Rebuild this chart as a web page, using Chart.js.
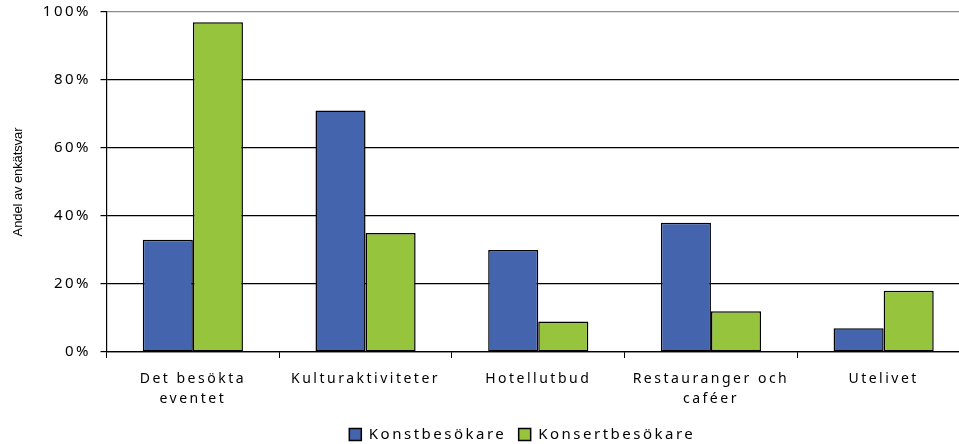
<!DOCTYPE html>
<html>
<head>
<meta charset="utf-8">
<script src="https://cdn.jsdelivr.net/npm/chart.js@4/dist/chart.umd.min.js"></script>
<style>
html,body{margin:0;padding:0;background:#fff;overflow:hidden;width:959px;height:444px;}
#wrap{position:absolute;left:0;top:0;width:1044px;height:444px;}
</style>
</head>
<body>
<div id="wrap"><canvas id="c" width="1044" height="444"></canvas></div>
<script>
const categories = [["Det besökta","eventet"],"Kulturaktiviteter","Hotellutbud",["Restauranger och","caféer"],"Utelivet"];
const konstbesokare = [33, 71, 30, 38, 7];
const konsertbesokare = [97, 35, 9, 12, 18];
const yTicks = [0, 20, 40, 60, 80, 100];

const SPACING = '2.5px';
const spacingPlugin = {
  id: 'spacing',
  beforeInit(chart){ chart.ctx.letterSpacing = SPACING; },
  beforeUpdate(chart){ chart.ctx.letterSpacing = SPACING; },
  beforeDraw(chart){ chart.ctx.letterSpacing = SPACING; },
  afterUpdate(chart){
    const s = chart.scales.y;
    if (s && !s._wrapped){
      const orig = s.drawTitle.bind(s);
      s.drawTitle = function(...a){
        const c = chart.ctx; const p = c.letterSpacing;
        c.letterSpacing = '-0.1px'; orig(...a); c.letterSpacing = p;
      };
      s._wrapped = true;
    }
    // centre the legend under the original chart frame
    const lg = chart.legend;
    if (lg) { lg.left += 38; lg.right += 38; }
  }
};

new Chart(document.getElementById('c'), {
  type: 'bar',
  data: {
    labels: categories,
    datasets: [
      {label: 'Konstbesökare', data: konstbesokare, backgroundColor: '#4464AD', borderColor: '#000', borderWidth: 1.5, borderSkipped: false},
      {label: 'Konsertbesökare', data: konsertbesokare, backgroundColor: '#96C43C', borderColor: '#000', borderWidth: 1.5, borderSkipped: false}
    ]
  },
  options: {
    responsive: false,
    animation: false,
    devicePixelRatio: 1,
    layout: {padding: {top: 12, right: 74, bottom: -8, left: 5}},
    datasets: {bar: {categoryPercentage: 0.58, barPercentage: 1.0}},
    plugins: {
      tooltip: {enabled: false},
      legend: {
        position: 'bottom',
        labels: {
          color: '#000',
          font: {family: 'Noto Sans', size: 15},
          boxWidth: 12, boxHeight: 12, padding: 6,
          generateLabels(chart){
            return chart.data.datasets.map((d,i)=>({text: d.label + '\u00A0', fillStyle: d.backgroundColor, strokeStyle: '#000', lineWidth: 1.5, datasetIndex: i, fontColor: '#000'}));
          }
        }
      }
    },
    scales: {
      x: {
        grid: {display: true, offset: true, drawOnChartArea: false, drawTicks: true, tickLength: 6, color: '#000'},
        border: {display: true, color: '#000', width: 1.2},
        ticks: {color: '#000', font: {family: 'Noto Sans', size: 14, lineHeight: '20px'}, padding: 11.5, maxRotation: 0, autoSkip: false}
      },
      y: {
        min: 0, max: 100,
        afterBuildTicks(scale){ scale.ticks = yTicks.map(v=>({value: v})); },
        grid: {color: (ctx)=> ctx.tick && ctx.tick.value === 100 ? '#8c8c8c' : '#000', lineWidth: 1.2, tickLength: 6, tickColor: '#000'},
        border: {display: true, color: '#000', width: 1.2},
        ticks: {color: '#000', font: {family: 'Noto Sans', size: 15, lineHeight: '4px'}, padding: 9.5, callback: v => v + '%'},
        title: {display: true, text: 'Andel av enkätsvar', color: '#000', font: {family: 'Liberation Sans', size: 13}, padding: {top: 6, bottom: 6.7}}
      }
    }
  },
  plugins: [spacingPlugin]
});
</script>
</body>
</html>
